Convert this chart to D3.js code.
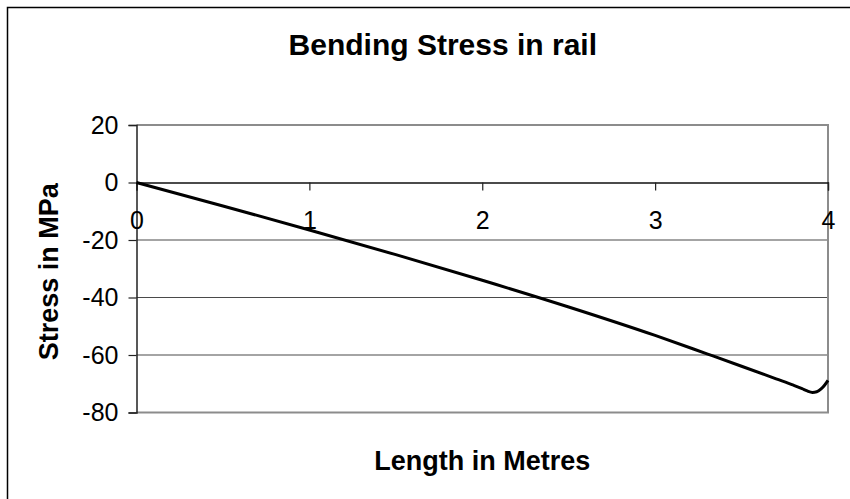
<!DOCTYPE html>
<html>
<head>
<meta charset="utf-8">
<script src="https://cdn.jsdelivr.net/npm/d3@7"></script>
<style>
  html, body { margin: 0; padding: 0; background: #fff; }
  svg { display: block; font-family: "Liberation Sans", Arial, sans-serif; }
</style>
</head>
<body>
<svg id="chart" width="850" height="499"></svg>
<script>
// Bending stress along the rail (position in metres, stress in MPa)
const lengthM = [0, 0.5, 1, 1.5, 2, 2.5, 3, 3.3, 3.5, 3.7, 3.8, 3.85, 3.88, 3.91, 3.935, 3.96, 3.98, 4.0];
const stressMPa = [0, -8.15, -16.5, -25.1, -34.0, -43.3, -53.2, -59.6, -63.9, -68.3, -70.5, -71.7, -72.5, -73.0, -72.8, -71.8, -70.5, -68.8];

const xTicks = [0, 1, 2, 3, 4];
const yTicks = [20, 0, -20, -40, -60, -80];

const titleText = "Bending Stress in rail";
const xTitle = "Length in Metres";
const yTitle = "Stress in MPa";

const svg = d3.select("#chart");

// chart area frame (extends past the right and bottom edges)
svg.append("rect")
  .attr("x", 7.5).attr("y", 7.5)
  .attr("width", 1000).attr("height", 1000)
  .attr("fill", "#fff")
  .attr("stroke", "#000").attr("stroke-width", 1.5);

const plot = { left: 136.5, right: 828, top: 125, bottom: 412.5 };

const x = d3.scaleLinear().domain([0, 4]).range([plot.left, plot.right]);
const y = d3.scaleLinear().domain([-80, 20]).range([plot.bottom, plot.top]);

// horizontal gridlines
svg.append("g")
  .selectAll("line")
  .data(yTicks.filter(v => v !== 20 && v !== -80 && v !== 0))
  .join("line")
  .attr("x1", plot.left).attr("x2", plot.right)
  .attr("y1", d => y(d)).attr("y2", d => y(d))
  .attr("stroke", "#4a4a4a").attr("stroke-width", 1.2);

// plot area border (top, right, bottom)
svg.append("path")
  .attr("d", `M${plot.left},${y(20)}H${plot.right}V${y(-80)}H${plot.left}`)
  .attr("fill", "none")
  .attr("stroke", "#8c8c8c").attr("stroke-width", 2);

// y axis
const yAxis = d3.axisLeft(y).tickValues(yTicks).tickSize(8).tickPadding(10)
  .tickFormat(d3.format("d"));
const gy = svg.append("g")
  .attr("transform", `translate(${plot.left},0)`)
  .call(yAxis);
gy.select(".domain").attr("stroke", "#222").attr("stroke-width", 1.5);
gy.selectAll(".tick line").attr("stroke", "#222").attr("stroke-width", 1.2);
gy.selectAll(".tick text")
  .attr("font-size", 25)
  .attr("fill", "#000")
  .text(d => d < 0 ? "-" + Math.abs(d) : String(d));

// x axis crossing at zero
const xAxis = d3.axisBottom(x).tickValues(xTicks).tickSize(8).tickPadding(21)
  .tickFormat(d3.format("d"));
const gx = svg.append("g")
  .attr("transform", `translate(0,${y(0)})`)
  .call(xAxis);
gx.select(".domain").attr("stroke", "#111").attr("stroke-width", 1.3);
gx.selectAll(".tick line").attr("stroke", "#222").attr("stroke-width", 1.2);
gx.selectAll(".tick text")
  .attr("font-size", 25)
  .attr("fill", "#000");

// stress curve
const line = d3.line()
  .x((d, i) => x(lengthM[i]))
  .y(d => y(d))
  .curve(d3.curveMonotoneX);

svg.append("path")
  .datum(stressMPa)
  .attr("d", line)
  .attr("fill", "none")
  .attr("stroke", "#000")
  .attr("stroke-width", 3)
  .attr("stroke-linejoin", "round");

// titles
svg.append("text")
  .attr("x", 597).attr("y", 55)
  .attr("text-anchor", "end")
  .attr("font-size", 30).attr("font-weight", "bold")
  .text(titleText);

svg.append("text")
  .attr("x", (plot.left + plot.right) / 2).attr("y", 470)
  .attr("text-anchor", "middle")
  .attr("font-size", 27).attr("font-weight", "bold")
  .text(xTitle);

svg.append("text")
  .attr("transform", `translate(58,${(plot.top + plot.bottom) / 2 + 3}) rotate(-90)`)
  .attr("text-anchor", "middle")
  .attr("font-size", 27).attr("font-weight", "bold")
  .text(yTitle);
</script>
</body>
</html>
